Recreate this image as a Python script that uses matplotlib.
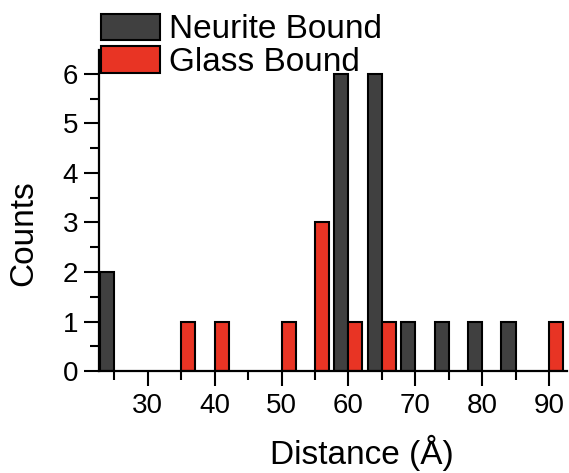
import matplotlib
matplotlib.use("Agg")
import matplotlib.pyplot as plt
from matplotlib.ticker import MultipleLocator

plt.rcParams['font.family'] = ['Liberation Sans', 'DejaVu Sans']

bin_centers = [25, 30, 35, 40, 45, 50, 55, 60, 65, 70, 75, 80, 85, 90]
neurite_counts = [2, 0, 0, 0, 0, 0, 0, 6, 6, 1, 1, 1, 1, 0]
glass_counts = [0, 0, 1, 1, 0, 1, 3, 1, 1, 0, 0, 0, 0, 1]
series_labels = ["Neurite Bound", "Glass Bound"]
x_ticks = [30, 40, 50, 60, 70, 80, 90]
y_ticks = [0, 1, 2, 3, 4, 5, 6]

dark = '#404040'
red = '#e83424'
bw = 2.1

fig = plt.figure(figsize=(5.69, 4.73), dpi=100)
ax = fig.add_axes([0.174, 0.2156, 0.8225, 0.6784])

nb = [c for c, v in zip(bin_centers, neurite_counts) if v > 0]
nv = [v for v in neurite_counts if v > 0]
gb = [c for c, v in zip(bin_centers, glass_counts) if v > 0]
gv = [v for v in glass_counts if v > 0]
ax.bar([c - bw / 2 for c in nb], nv, width=bw, color=dark, edgecolor='black',
       linewidth=1.5, label=series_labels[0])
ax.bar([c + bw / 2 for c in gb], gv, width=bw, color=red, edgecolor='black',
       linewidth=1.5, label=series_labels[1])

ax.set_xlim(22.7, 92.7)
ax.set_ylim(0, 6.48)
ax.set_xticks(x_ticks)
ax.set_yticks(y_ticks)
ax.xaxis.set_minor_locator(MultipleLocator(5))
ax.yaxis.set_minor_locator(MultipleLocator(0.5))
for s in ['top', 'right']:
    ax.spines[s].set_visible(False)
for s in ['left', 'bottom']:
    ax.spines[s].set_linewidth(1.6)
ax.tick_params(which='major', length=11, width=1.5, labelsize=20, direction='out')
ax.tick_params(which='minor', length=6.5, width=1.5, direction='out')
ax.tick_params(axis='x', which='major', pad=5)
ax.tick_params(axis='y', which='major', pad=4)

ax.set_xlabel('Distance (Å)', fontsize=24)
ax.set_ylabel('Counts', fontsize=24)
ax.xaxis.set_label_coords(0.562, -0.198)
ax.yaxis.set_label_coords(-0.127, 0.43)

leg = fig.legend(loc='upper left', bbox_to_anchor=(0.165, 0.985), frameon=False,
                 fontsize=24, handlelength=1.77, handleheight=0.84,
                 handletextpad=0.27, labelspacing=0.02, borderpad=0.2,
                 borderaxespad=0)

fig.savefig('out.png', dpi=100)
